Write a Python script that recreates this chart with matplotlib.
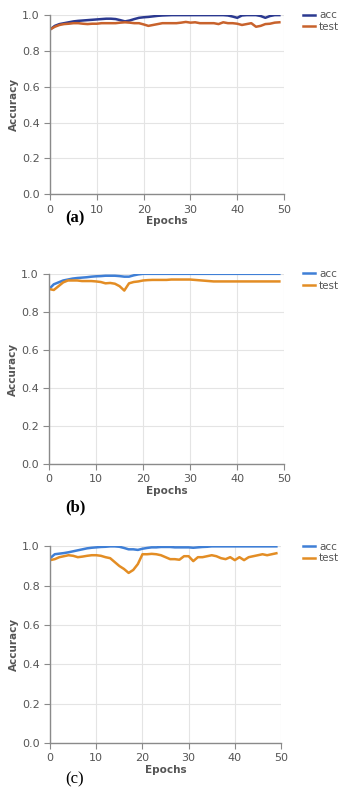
import numpy as np
import matplotlib.pyplot as plt

epochs = np.arange(50)

# (a)
acc_a = [0.92, 0.94, 0.95, 0.955, 0.96, 0.965, 0.968, 0.97, 0.972, 0.974,
         0.976, 0.978, 0.98, 0.98, 0.978, 0.972, 0.965, 0.97, 0.978, 0.985,
         0.988, 0.99, 0.993, 0.996, 0.998, 0.999, 1.0, 1.0, 1.0, 1.0,
         1.0, 1.0, 1.0, 1.0, 1.0, 1.0, 1.0, 1.0, 0.998, 0.992,
         0.985, 0.998, 1.0, 1.0, 1.0, 0.995, 0.985, 0.995, 1.0, 1.0]
test_a = [0.92, 0.935, 0.945, 0.95, 0.952, 0.955, 0.955, 0.952, 0.95, 0.952,
          0.952, 0.955, 0.955, 0.955, 0.955, 0.958, 0.96, 0.958, 0.955, 0.955,
          0.948, 0.94, 0.945, 0.95, 0.955, 0.955, 0.955, 0.955, 0.958, 0.962,
          0.958, 0.96, 0.955, 0.955, 0.955, 0.955, 0.95, 0.96, 0.955, 0.955,
          0.952, 0.945, 0.95, 0.955, 0.935, 0.94, 0.95, 0.952, 0.958, 0.96]

# (b)
acc_b = [0.92, 0.945, 0.955, 0.965, 0.97, 0.975, 0.978, 0.98, 0.982, 0.985,
         0.987, 0.988, 0.99, 0.99, 0.99, 0.988, 0.985, 0.985, 0.992, 0.997,
         1.0, 1.0, 1.0, 1.0, 1.0, 1.0, 1.0, 1.0, 1.0, 1.0,
         1.0, 1.0, 1.0, 1.0, 1.0, 1.0, 1.0, 1.0, 1.0, 1.0,
         1.0, 1.0, 1.0, 1.0, 1.0, 1.0, 1.0, 1.0, 1.0, 1.0]
test_b = [0.92, 0.915, 0.935, 0.955, 0.965, 0.965, 0.965, 0.962, 0.962, 0.962,
          0.96, 0.957, 0.95, 0.952, 0.948, 0.935, 0.912, 0.95, 0.957, 0.96,
          0.965, 0.967, 0.968, 0.968, 0.968, 0.968, 0.97, 0.97, 0.97, 0.97,
          0.97, 0.968, 0.966, 0.964, 0.962, 0.96, 0.96, 0.96, 0.96, 0.96,
          0.96, 0.96, 0.96, 0.96, 0.96, 0.96, 0.96, 0.96, 0.96, 0.96]

# (c)
acc_c = [0.94, 0.96, 0.963, 0.966, 0.97, 0.975, 0.98, 0.985, 0.99, 0.993,
         0.995, 0.997, 0.998, 1.0, 1.0, 0.998, 0.992, 0.985, 0.985, 0.982,
         0.988, 0.992, 0.995, 0.995, 0.997, 0.997, 0.997, 0.995, 0.995, 0.995,
         0.995, 0.993, 0.995, 0.997, 0.998, 1.0, 1.0, 1.0, 1.0, 1.0,
         1.0, 1.0, 1.0, 1.0, 1.0, 1.0, 1.0, 1.0, 1.0, 1.0]
test_c = [0.93, 0.935, 0.945, 0.95, 0.955, 0.952, 0.945, 0.948, 0.952, 0.955,
          0.955, 0.952, 0.945, 0.94, 0.92, 0.9, 0.885, 0.865, 0.88, 0.91,
          0.96, 0.96, 0.962, 0.96, 0.955, 0.945, 0.935, 0.935, 0.932, 0.95,
          0.95, 0.925, 0.945, 0.945, 0.95, 0.955, 0.95, 0.94, 0.935, 0.945,
          0.93, 0.945, 0.93, 0.945, 0.95, 0.955, 0.96, 0.955, 0.96, 0.965]

panels = [
    ("(a)", acc_a, test_a, "#2b3990", "#c8622c", [0.147, 0.756, 0.686, 0.225], True),
    ("(b)", acc_b, test_b, "#3f7fd6", "#e38d24", [0.144, 0.417, 0.689, 0.239], True),
    ("(c)", acc_c, test_c, "#3f7fd6", "#e38d24", [0.147, 0.0666, 0.677, 0.247], False),
]
label_y = [218, 507, 779]

fig = plt.figure(figsize=(3.41, 7.96), dpi=100)

for (tag, acc, test, c_acc, c_test, rect, bold), ly in zip(panels, label_y):
    ax = fig.add_axes(rect)
    ax.plot(epochs, acc, color=c_acc, linewidth=1.8, label="acc")
    ax.plot(epochs, test, color=c_test, linewidth=1.8, label="test")
    ax.set_xlim(0, 50)
    ax.set_ylim(0, 1.0)
    ax.set_xticks([0, 10, 20, 30, 40, 50])
    ax.set_yticks([0.0, 0.2, 0.4, 0.6, 0.8, 1.0])
    ax.set_yticklabels(["0.0", "0.2", "0.4", "0.6", "0.8", "1.0"])
    ax.grid(True, color="#e4e4e4", linewidth=0.8)
    ax.set_axisbelow(True)
    for side in ["top", "right"]:
        ax.spines[side].set_visible(False)
    for side in ["left", "bottom"]:
        ax.spines[side].set_color("#8a8a8a")
        ax.spines[side].set_linewidth(1.0)
    ax.tick_params(colors="#8a8a8a", labelcolor="#555555", labelsize=8,
                   length=4, width=0.8)
    ax.set_xlabel("Epochs", fontsize=7.5, fontweight="bold", color="#555555",
                  labelpad=1)
    ax.set_ylabel("Accuracy", fontsize=7.5, fontweight="bold", color="#555555",
                  labelpad=2)
    fig.legend(*ax.get_legend_handles_labels(), loc="upper right",
               bbox_to_anchor=(0.995, rect[1] + rect[3] + 0.006),
               frameon=False, fontsize=7.5, handlelength=1.2,
               handletextpad=0.4, labelspacing=0.15, borderaxespad=0,
               borderpad=0, labelcolor="#555555")
    fig.text(75 / 341, 1 - ly / 796, tag, fontsize=12, family="Liberation Serif",
             fontweight="bold" if bold else "normal", ha="center", va="center")

fig.savefig("out.png", dpi=100)
